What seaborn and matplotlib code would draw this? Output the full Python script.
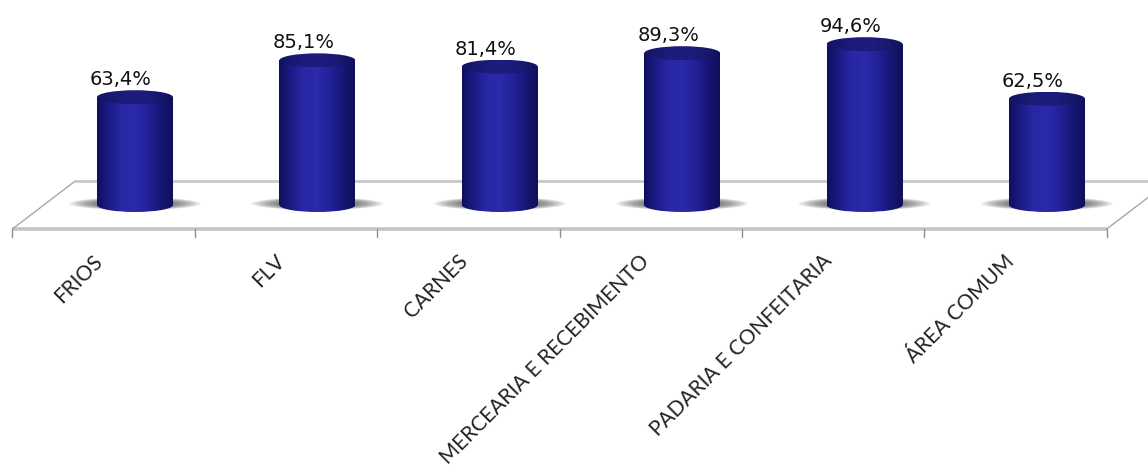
import numpy as np
import pandas as pd
import matplotlib
matplotlib.use("Agg")
import matplotlib.pyplot as plt
import seaborn as sns
from matplotlib.patches import Ellipse, Polygon
from matplotlib.colors import LinearSegmentedColormap

categories = ["FRIOS", "FLV", "CARNES", "MERCEARIA E RECEBIMENTO",
              "PADARIA E CONFEITARIA", "ÁREA COMUM"]
values = [63.4, 85.1, 81.4, 89.3, 94.6, 62.5]
value_labels = ["63,4%", "85,1%", "81,4%", "89,3%", "94,6%", "62,5%"]

sns.set_style("white")
plt.rcParams["font.family"] = ["DejaVu Sans"]

W, H = 1148, 473
fig = plt.figure(figsize=(W / 100, H / 100), dpi=100)
ax = fig.add_axes([0, 0, 1, 1])

# pixel geometry of the pseudo-3D layout
cat_px = 182.4      # pixels per category
x0_px = 135         # centre of first cylinder
base_px = 205       # y (from top) of the 0 % level
unit_px = 1.70      # pixels per percentage point

df = pd.DataFrame({"cat": categories, "val": values})
bar_w = 76 / cat_px
sns.barplot(data=df, x="cat", y="val", order=categories, width=bar_w,
            color="#22229a", linewidth=0, ax=ax, zorder=3)

xlim = (-x0_px / cat_px, (W - x0_px) / cat_px)
ylim = ((base_px - H) / unit_px, base_px / unit_px)

ell_h = 14 / unit_px
depth_dx = 63 / cat_px
depth_dy = 48 / unit_px
front_y = -depth_dy / 2
back_y = depth_dy / 2
front_left = -0.5 - depth_dx / 2

# floor
n = len(categories)
floor = Polygon([(front_left, front_y), (front_left + n, front_y),
                 (front_left + n + depth_dx, back_y), (front_left + depth_dx, back_y)],
                closed=True, facecolor="white", edgecolor="none", zorder=0)
ax.add_patch(floor)
ax.plot([front_left, front_left + n], [front_y, front_y], color="#c4c4c4", lw=2.6, zorder=1,
        solid_capstyle="butt")
ax.plot([front_left + depth_dx, front_left + n + depth_dx], [back_y, back_y], color="#c8c8c8",
        lw=2.0, zorder=1, solid_capstyle="butt")
ax.plot([front_left, front_left + depth_dx], [front_y, back_y], color="#a8a8a8", lw=1.0, zorder=1)
ax.plot([front_left + n, front_left + n + depth_dx], [front_y, back_y], color="#a8a8a8", lw=1.0,
        zorder=1)
for i in range(n + 1):
    ax.plot([front_left + i, front_left + i], [front_y, front_y - 8 / unit_px],
            color="#909090", lw=1.0, zorder=1)

# cylinder shading
body_cmap = LinearSegmentedColormap.from_list(
    "body", ["#0f0f5e", "#1c1c88", "#2828a6", "#2a2aaa", "#22229a", "#171778", "#0f0f5a"])
top_cmap = LinearSegmentedColormap.from_list(
    "top", ["#141462", "#1a1a76", "#1d1d7e", "#1a1a74", "#12125c"])
grad = np.linspace(0, 1, 256).reshape(1, -1)

bars = [p for p in ax.patches]
for p, v, lab in zip(bars, values, value_labels):
    x = p.get_x()
    w = p.get_width()
    xc = x + w / 2
    # soft shadow on the floor
    for k in range(10):
        f = 1 - k / 10
        sh = Ellipse((xc, 0.8), 0.34 + 0.38 * f, ell_h * (0.55 + 0.35 * f),
                     facecolor="#404040", edgecolor="none", alpha=0.11, zorder=2)
        ax.add_patch(sh)
    # body gradient clipped to bar
    im = ax.imshow(grad, cmap=body_cmap, extent=(x, x + w, 0, v), aspect="auto",
                   zorder=4, interpolation="bicubic")
    im.set_clip_path(p)
    # bottom half ellipse
    bottom = Ellipse((xc, 0), w, ell_h, transform=ax.transData)
    im2 = ax.imshow(grad, cmap=body_cmap, extent=(x, x + w, -ell_h / 2, 0.01), aspect="auto",
                    zorder=4, interpolation="bicubic")
    im2.set_clip_path(bottom)
    # top ellipse
    top = Ellipse((xc, v), w, ell_h, transform=ax.transData)
    im3 = ax.imshow(grad, cmap=top_cmap, extent=(x, x + w, v - ell_h / 2, v + ell_h / 2),
                    aspect="auto", zorder=5, interpolation="bicubic")
    im3.set_clip_path(top)
    # value label
    ax.text(xc - 14 / cat_px, v + ell_h / 2 + 1 / unit_px, lab, ha="center", va="bottom",
            fontsize=14, color="#111111", zorder=6)

# category labels
for i, c in enumerate(categories):
    ax.text(front_left + i + 0.5 + 3 / cat_px, front_y - 22 / unit_px, c, rotation=45,
            ha="right", va="top", fontsize=15, family=["Lato", "DejaVu Sans"],
            color="#222222", zorder=6)

ax.set_xlim(*xlim)
ax.set_ylim(*ylim)
ax.axis("off")
fig.savefig("out.png", dpi=100, facecolor="white")
